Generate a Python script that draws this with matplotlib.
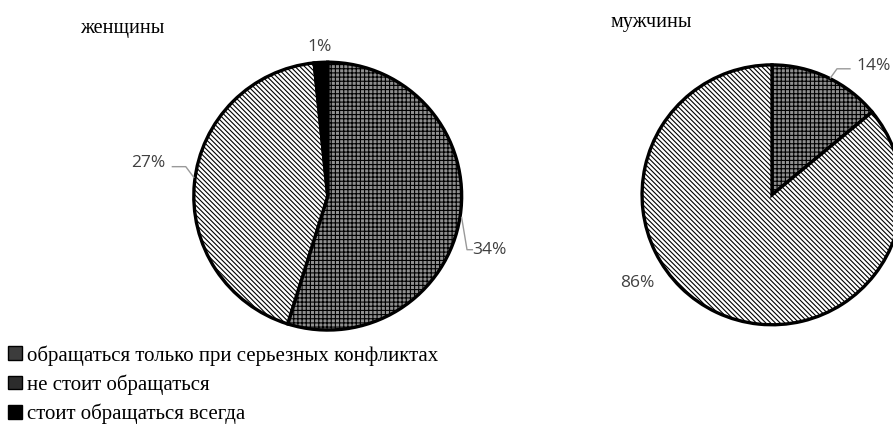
import matplotlib.pyplot as plt
from matplotlib.patches import Patch

# survey shares, women and men
labels = ['обращаться только при серьезных конфликтах',
          'не стоит обращаться',
          'стоит обращаться всегда']
women = [34, 27, 1]
men = [14, 86]

faces = ['#8f8f8f', 'white', 'black']
hatches = ['++++', '\\\\\\\\\\\\\\', None]
key_faces = ['#3c3c3c', '#2c2c2c', 'black']

plt.rcParams['hatch.linewidth'] = 0.8
serif = ['Liberation Serif', 'DejaVu Serif']
sans = ['Open Sans', 'DejaVu Sans']

fig = plt.figure(figsize=(8.93, 4.32), dpi=100)


def draw_pie(ax, vals):
    wedges, _ = ax.pie(vals, startangle=90, counterclock=False,
                       colors=faces[:len(vals)],
                       wedgeprops=dict(edgecolor='black', linewidth=2.4))
    for w, h in zip(wedges, hatches):
        if h:
            w.set_hatch(h)
    ax.set_xlim(-1, 1)
    ax.set_ylim(-1, 1)
    return wedges


def pct(ax, v, x, y, leader=None):
    ax.text(x, y, '%d%%' % v, ha='center', va='center', fontsize=12.5,
            family=sans, color='#404040')
    if leader:
        xs, ys = zip(*leader)
        ax.plot(xs, ys, color='#999999', lw=1, clip_on=False)


ax1 = fig.add_axes([0.217, 0.236, 0.300, 0.620])
draw_pie(ax1, women)
pct(ax1, women[0], 1.21, -0.40, [(1.0, -0.16), (1.04, -0.40), (1.08, -0.40)])
pct(ax1, women[1], -1.34, 0.25, [(-1.16, 0.22), (-1.06, 0.22), (-1.0, 0.14)])
pct(ax1, women[2], -0.06, 1.11)

ax2 = fig.add_axes([0.719, 0.248, 0.291, 0.602])
draw_pie(ax2, men)
pct(ax2, men[0], 0.78, 0.99, [(0.60, 0.97), (0.50, 0.97), (0.45, 0.90)])
pct(ax2, men[1], -1.04, -0.68)

fig.text(0.090, 0.935, 'женщины', family=serif, fontsize=14.5, va='center')
fig.text(0.684, 0.948, 'мужчины', family=serif, fontsize=14.5, va='center')

handles = [Patch(facecolor=key_faces[i], edgecolor='black', lw=1)
           for i in range(3)]
fig.legend(handles, labels, loc='lower left', bbox_to_anchor=(-0.012, -0.025),
           frameon=False, prop={'family': serif, 'size': 15},
           handlelength=0.65, handleheight=0.65, handletextpad=0.25,
           labelspacing=0.42)

fig.savefig('out.png', dpi=100)
